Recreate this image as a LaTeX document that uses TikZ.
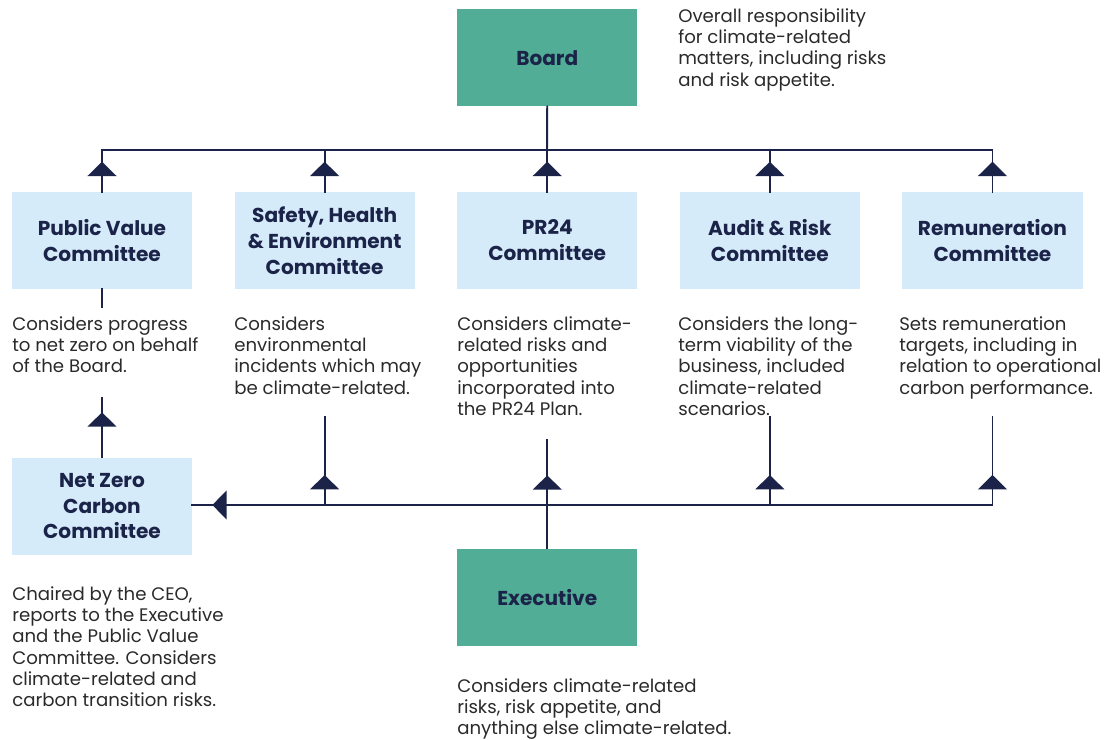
\documentclass[tikz,border=0pt]{standalone}
\usepackage{fontspec}
\setmainfont{Poppins}
\usetikzlibrary{positioning, arrows.meta, decorations.markings}

\definecolor{boardteal}{HTML}{52AD97}
\definecolor{committeeblue}{HTML}{D5EBF9}
\definecolor{navy}{HTML}{1B2349}
\definecolor{bodytext}{HTML}{2A2A2A}

\begin{document}
\begin{tikzpicture}[
    x=0.025cm, y=-0.025cm,
    node distance=1.05cm,
    group/.style={rectangle, fill=boardteal, minimum width=4.5cm, minimum height=2.425cm, font=\bfseries\fontsize{14.3}{18.4}\selectfont, text=navy, align=center},
    committee/.style={group, fill=committeeblue},
    remit/.style={anchor=north west, inner sep=0pt, align=left, font=\fontsize{12.9}{15.2}\selectfont, text=bodytext},
    link/.style={line width=1.4pt, draw=navy, line cap=rect},
    tipat/.style={postaction={decorate}, decoration={markings, mark=at position #1 with {\arrow{Triangle[width=0.72cm,length=0.36cm]}}}}
]
    \useasboundingbox (0,0) rectangle (1107,740);

    % Committees in one row, board above and executive below
    \node[committee] (pv) at (102,240.5) {Public Value\\Committee};
    \node[committee, right=of pv] (she) {Safety, Health\\\& Environment\\Committee};
    \node[committee, right=of she] (pr) {PR24\\Committee};
    \node[committee, right=of pr] (audit) {Audit \& Risk\\Committee};
    \node[committee, right=of audit] (rem) {Remuneration\\Committee};
    \node[group, above=2.125cm of pr] (board) {Board};
    \node[committee, below=4.2cm of pv] (netzero) {Net Zero\\Carbon\\Committee};
    \node[group, below=6.475cm of pr] (exec) {Executive};

    % Remits
    \node[remit] (boardtext) at (678,8) {Overall responsibility\\for climate-related\\matters, including risks\\and risk appetite.};
    \node[remit] (pvtext) at (12,316) {Considers progress\\to net zero on behalf\\of the Board.};
    \node[remit] (shetext) at (234,316) {Considers\\environmental\\incidents which may\\be climate-related.};
    \node[remit] (prtext) at (457,316) {Considers climate-\\related risks and\\opportunities\\incorporated into\\the PR24 Plan.};
    \node[remit] (audittext) at (678,316) {Considers the long-\\term viability of the\\business, included\\climate-related\\scenarios.};
    \node[remit] (remtext) at (899,316) {Sets remuneration\\targets, including in\\relation to operational\\carbon performance.};
    \node[remit] (netzerotext) at (12,586) {Chaired by the CEO,\\reports to the Executive\\and the Public Value\\Committee. Considers\\climate-related and\\carbon transition risks.};
    \node[remit] (exectext) at (457,678) {Considers climate-related\\risks, risk appetite, and\\anything else climate-related.};

    % Bus lines
    \coordinate (topbus) at (547,150);
    \coordinate (lowbus) at (rem.south |- 0,505);
    \coordinate (pvstub) at (pv.south |- 0,307);
    \coordinate (pvup) at (pv.south |- 0,398);
    \coordinate (sheup) at (she.south |- 0,417);
    \coordinate (prup) at (pr.south |- 0,440);
    \coordinate (auditup) at (audit.south |- 0,417);
    \coordinate (remup) at (rem.south |- 0,417);

    % Reporting up to the board
    \draw[link] (board.south) -- (topbus);
    \draw[link] (pv.north |- topbus) -- (rem.north |- topbus);
    \foreach \c in {pv, she, pr, audit, rem}
        \draw[link, tipat=0.75cm] (\c.north) -- (\c.north |- topbus);

    % Reporting to the net zero committee
    \draw[link] (pv.south) -- (pvstub);
    \draw[link, tipat=1.125cm] (netzero.north) -- (pvup);
    \draw[link, tipat=-0.5cm] (lowbus) -- (netzero.east |- lowbus);
    \draw[link, tipat=0.75cm] (she.south |- lowbus) -- (sheup);
    \draw[link, tipat=0.75cm] (audit.south |- lowbus) -- (auditup);
    \draw[link, tipat=0.75cm] (lowbus) -- (remup);
    \draw[link, tipat=1.825cm] (exec.north) -- (prup);
\end{tikzpicture}
\end{document}
